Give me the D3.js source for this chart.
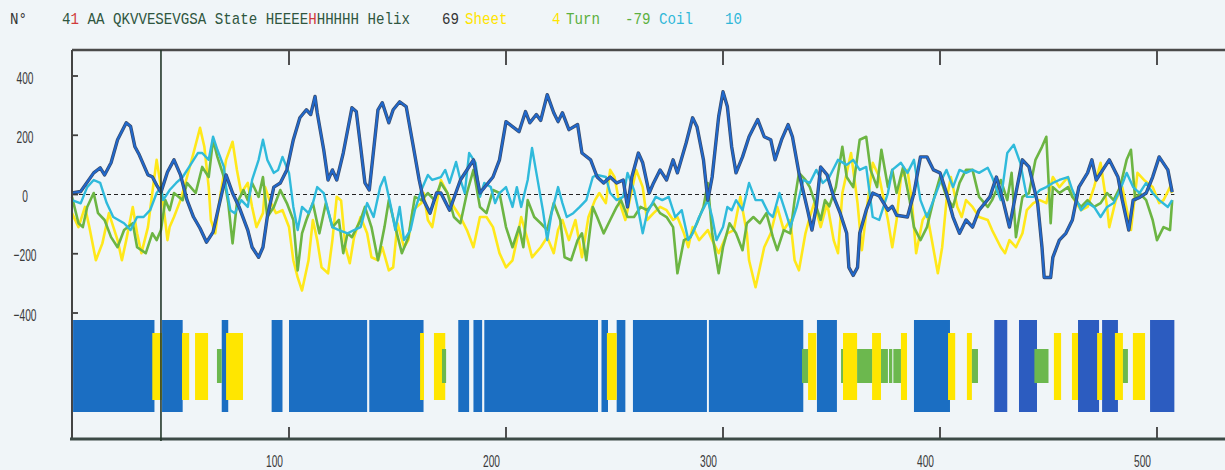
<!DOCTYPE html>
<html lang="en">
<head>
<meta charset="utf-8">
<script src="https://d3js.org/d3.v7.min.js"></script>
<style>
  html, body { margin: 0; padding: 0; background: #f0f5f8; }
  svg { display: block; }
  .axis text { font-family: "Liberation Sans", sans-serif; font-size: 17px; fill: #3a3a3a; }
  .axis path, .axis line { display: none; }
  .tk { stroke: #3e3e3e; stroke-width: 1.8; }
  .hdr { font-family: "Liberation Mono", monospace; font-size: 17px; }
</style>
</head>
<body>
<script>
// ---- data ----
var xTicks = [100, 200, 300, 400, 500];
var yTicks = [-400, -200, 0, 200, 400];
var cursorResidue = 41;

// header line
var hdrSeq = "QKVVESEVGSA";
var hdrState = "HEEEEHHHHHH";
var hdrScores = [["Helix", "69"], ["Sheet", "4"], ["Turn", "-79"], ["Coil", "10"]];

// secondary structure segments [start, end] in residues
var helixSegs = [[0.5,38],[41.5,51],[69,72],[92,97],[100,136],[137,162],[178,183],[185,189],[190,242.4],
  [244,247],[251,255],[258.5,292.6],[293.5,337],[343.3,352.5],[388,404.6]];
var helixSegsB = [[425,431],[436.4,444.7],[463.6,473.3],[474.7,482],[496.8,508]];
var sheetSegs = [[37,41.5],[50.7,54],[56.7,62.7],[71,78.8],[160.4,162.2],[166.8,172],[246.5,251],[339.2,343],
  [355.3,361.8],[368.7,372.8],[382,384.8],[403.7,407],[412.4,414.7],[452.5,455.8],[460.8,463.6],
  [472.4,474.7],[480.6,484.3],[488.9,494.5]];
var turnSegs = [[66.8,69],[170.5,172.4],[336.4,339.2],[354.4,355.3],[361.8,368.7],[372.8,376],[376.5,378],
  [378.5,382],[414.7,417.5],[443.5,450],[484.3,486.6]];

// propensity profiles [residue, value]
var helixProfile = [[0,5],[4,10],[10,73],[13,90],[15,66],[18,107],[21,185],[25,242],[27,230],[29,161],[31,134],[35,66],[37,60],[39,32],[41,8],[44,76],[47,117],[50,66],[53,-19],[56,-76],[59,-114],[62,-161],[65,-127],[68,-29],[71,66],[74,5],[77,-42],[81,-120],[83,-178],[86,-212],[88,-178],[90,-76],[93,25],[96,39],[99,83],[102,185],[105,259],[108,286],[110,270],[112,331],[113,276],[116,151],[118,49],[120,83],[122,49],[125,140],[129,293],[131,280],[133,161],[135,39],[137,15],[141,286],[143,310],[146,242],[148,286],[151,313],[154,297],[157,174],[160,49],[162,-19],[165,-63],[168,5],[170,5],[174,-53],[179,49],[185,117],[188,5],[194,59],[197,117],[200,246],[203,229],[206,212],[209,280],[211,242],[214,270],[216,250],[219,337],[222,276],[224,246],[226,276],[229,219],[233,236],[235,140],[239,117],[242,59],[245,39],[248,59],[251,39],[254,49],[256,-42],[258,59],[261,140],[263,107],[266,5],[268,39],[271,83],[274,49],[277,117],[279,73],[283,174],[286,259],[288,229],[291,117],[293,-19],[295,59],[298,263],[300,347],[302,297],[304,161],[306,73],[309,127],[312,195],[316,253],[319,195],[322,185],[324,117],[327,185],[330,236],[332,195],[335,73],[339,-53],[341,-120],[343,-42],[345,93],[348,66],[351,-8],[354,-63],[357,-131],[358,-246],[360,-273],[362,-246],[363,-131],[366,-53],[369,5],[372,-5],[376,-53],[378,-40],[380,-70],[385,-76],[388,5],[391,127],[394,127],[397,83],[400,73],[403,5],[406,-76],[409,-131],[412,-86],[415,-110],[418,-53],[423,-8],[426,59],[429,-19],[432,-110],[435,5],[438,117],[441,93],[445,-29],[447,-178],[448,-280],[451,-280],[452,-212],[455,-154],[458,-131],[461,-86],[464,25],[468,73],[470,117],[472,49],[475,83],[478,117],[482,59],[484,-19],[487,-120],[489,-19],[492,-10],[495,5],[498,59],[501,127],[505,83],[507,8]];

var sheetProfile = [[0,-63],[3,-110],[6,-42],[8,-110],[11,-222],[14,-165],[17,-63],[21,-154],[23,-222],[25,-154],[28,-42],[30,-131],[32,-198],[35,-110],[37,5],[39,117],[41,25],[42,-29],[44,-154],[45,-110],[47,-76],[50,-19],[53,59],[56,140],[59,225],[61,161],[63,25],[64,-86],[66,-131],[68,-19],[71,117],[74,178],[76,83],[78,5],[81,39],[83,-42],[85,-110],[88,-63],[89,25],[91,-19],[94,-63],[97,-53],[100,-110],[102,-222],[104,-280],[106,-324],[109,-222],[111,-86],[113,-154],[115,-246],[118,-266],[120,-154],[122,-8],[124,-20],[126,-178],[128,-232],[130,-144],[133,-76],[136,-131],[138,-212],[141,-222],[143,-178],[146,-256],[148,-246],[150,-97],[153,-178],[155,-154],[157,-53],[161,-29],[162,5],[164,-86],[166,-110],[170,49],[173,5],[176,-42],[179,-76],[182,-120],[185,-178],[188,-76],[191,-76],[194,-110],[197,-198],[200,-246],[203,-222],[205,-154],[207,-76],[210,-154],[212,-212],[216,-178],[219,-144],[222,-198],[224,-120],[226,-86],[229,-154],[232,-86],[235,-212],[238,-76],[241,-19],[243,5],[246,-29],[248,83],[250,59],[252,-19],[255,-86],[257,-19],[260,83],[263,25],[265,-86],[268,-63],[271,-42],[274,-53],[277,-86],[279,-76],[282,-131],[284,-178],[286,-110],[289,-154],[293,-120],[295,-154],[298,-198],[302,-131],[305,-120],[308,-8],[311,-131],[312,-222],[315,-313],[317,-246],[319,-178],[322,-131],[325,-42],[328,-120],[331,-86],[333,-222],[335,-256],[338,-131],[340,-76],[342,-29],[345,-110],[348,-29],[351,-154],[353,-198],[355,5],[359,140],[362,-29],[364,-188],[366,-63],[369,107],[372,59],[376,-86],[378,-178],[380,-86],[382,59],[385,83],[387,-19],[389,-198],[392,-86],[394,-63],[396,-144],[399,-266],[401,-178],[403,-19],[405,59],[408,-42],[410,-76],[412,-19],[415,-42],[418,-76],[422,-86],[424,-120],[428,-178],[430,-198],[432,-154],[435,-178],[438,-131],[440,-53],[443,-29],[446,-19],[449,-29],[452,59],[455,25],[459,59],[461,-8],[465,-53],[468,-42],[471,25],[474,107],[477,-42],[478,-110],[481,-19],[484,25],[488,-120],[491,73],[494,49],[498,25],[501,-29],[503,-19],[506,25],[507,5]];

var turnProfile = [[0,-8],[3,-97],[5,-110],[7,-42],[10,5],[12,-63],[15,-86],[18,-144],[21,-178],[24,-120],[28,-97],[30,-178],[34,-198],[37,-131],[39,-154],[41,-120],[43,-19],[45,-53],[47,5],[51,-19],[53,39],[57,5],[60,93],[63,59],[65,185],[67,127],[70,59],[72,-29],[74,-165],[76,-29],[79,15],[81,-19],[83,39],[86,-8],[88,59],[90,-76],[93,-42],[96,15],[99,-29],[102,-86],[104,-256],[106,-131],[108,-86],[111,-29],[114,-131],[117,-29],[120,-110],[123,-86],[125,-198],[127,-131],[129,-144],[133,-86],[135,-42],[138,-110],[141,-222],[144,-110],[146,-19],[149,-110],[152,-198],[155,-144],[158,-8],[161,-19],[164,5],[167,-19],[170,39],[173,5],[176,-76],[179,-97],[182,5],[185,83],[188,-42],[191,-63],[194,15],[197,5],[200,-110],[203,-178],[206,-110],[208,-178],[210,-19],[213,-76],[216,-97],[219,-120],[222,-29],[225,-86],[227,-212],[230,-222],[233,-154],[235,-131],[237,-222],[240,-42],[242,-76],[245,-131],[248,-86],[251,-42],[253,-19],[256,-76],[259,-76],[262,-42],[265,-53],[268,-29],[271,-63],[274,-76],[277,-110],[279,-266],[282,-154],[285,-144],[288,-97],[291,-42],[293,39],[295,-131],[298,-266],[300,-178],[303,-97],[306,-131],[309,-188],[311,-97],[314,-76],[317,-97],[320,-63],[323,-144],[325,-188],[328,-120],[331,-131],[333,-19],[335,73],[338,49],[340,25],[342,-19],[345,-86],[347,-19],[349,-40],[352,25],[355,161],[357,59],[360,25],[363,185],[366,195],[368,83],[371,25],[373,151],[376,25],[378,83],[380,5],[383,93],[386,-19],[388,-110],[391,-154],[394,-110],[397,-19],[400,59],[403,-8],[406,-42],[409,39],[412,83],[415,83],[418,-8],[422,-42],[424,-19],[428,49],[431,-19],[433,73],[435,-144],[438,-8],[441,5],[444,117],[447,161],[449,195],[451,-97],[452,25],[455,5],[459,25],[461,-8],[465,-42],[468,-19],[471,-42],[474,-29],[477,5],[480,-19],[483,25],[486,117],[488,151],[490,-19],[492,5],[495,-19],[498,-86],[500,-154],[503,-110],[506,-120],[507,-19]];

var coilProfile = [[0,-19],[4,-30],[7,25],[10,49],[13,39],[16,-29],[19,-76],[24,-97],[27,-120],[30,-76],[33,-76],[36,-53],[39,5],[41,25],[42,-19],[45,15],[48,39],[51,59],[54,93],[58,140],[60,140],[63,117],[65,195],[67,151],[70,93],[71,25],[73,-53],[75,-63],[78,-19],[81,-42],[83,49],[86,117],[88,185],[90,117],[93,73],[95,83],[97,127],[100,73],[102,-42],[104,-120],[106,-42],[109,-63],[111,-29],[113,25],[116,5],[118,-53],[120,-110],[123,-120],[127,-131],[130,-120],[133,-110],[136,-29],[139,-76],[142,25],[144,59],[147,-42],[149,-120],[151,-42],[153,-154],[156,-120],[158,-53],[161,15],[164,66],[166,49],[170,59],[172,83],[174,39],[177,110],[179,49],[181,5],[183,140],[186,107],[188,-8],[190,39],[193,25],[195,-29],[197,5],[200,25],[203,-42],[205,25],[207,-42],[210,49],[212,157],[214,73],[217,-53],[219,-154],[221,-63],[224,25],[226,-29],[228,-76],[231,-63],[234,-42],[237,-19],[240,59],[242,66],[246,59],[248,5],[251,-19],[254,-8],[256,73],[259,15],[261,-53],[263,-131],[265,-63],[269,-8],[272,-19],[275,-8],[278,-76],[281,-53],[284,-154],[286,-131],[289,-76],[293,-19],[295,-76],[297,-154],[300,-110],[302,-42],[304,-53],[306,-19],[309,-53],[312,39],[315,-19],[318,-19],[321,-63],[323,-76],[326,5],[329,-63],[331,-110],[334,-42],[337,49],[340,39],[343,83],[346,39],[349,59],[353,117],[357,100],[360,117],[363,83],[366,93],[369,-76],[372,-86],[376,5],[378,83],[382,107],[385,73],[388,117],[391,-19],[394,-76],[397,-19],[400,39],[403,83],[406,25],[409,83],[412,73],[415,83],[418,73],[422,90],[424,59],[428,-19],[431,140],[434,168],[437,107],[440,-8],[443,-8],[446,15],[449,25],[452,39],[455,49],[459,59],[461,15],[465,-53],[468,-29],[471,-42],[474,-76],[477,-42],[480,-29],[483,15],[486,73],[489,25],[492,5],[495,39],[498,5],[501,-19],[505,-42],[507,-19]];

// ---- drawing ----
var W = 1225, H = 470;
var x = d3.scaleLinear().domain([0, 500]).range([72, 1157]);
var y = d3.scaleLinear().domain([-400, 400]).range([313, 76]);
var plotTop = 50, plotBottom = 439, plotLeft = 72;

var svg = d3.select("body").append("svg").attr("width", W).attr("height", H);
svg.append("rect").attr("width", W).attr("height", H).attr("fill", "#f0f5f8");

// header
var hs = 0.833;
var hdr = svg.append("g").attr("class", "hdr").attr("transform", "scale(" + hs + ",1)");
function put(txt, px, col) {
  return hdr.append("text").attr("x", px / hs).attr("y", 24).attr("fill", col).text(txt);
}
put("N\u00b0", 10, "#333");
var t = hdr.append("text").attr("x", 62 / hs).attr("y", 24).attr("fill", "#2f5640");
t.append("tspan").text("4");
t.append("tspan").attr("fill", "#d03a3a").text("1");
t.append("tspan").text(" AA " + hdrSeq + " State " + hdrState.slice(0, 5));
t.append("tspan").attr("fill", "#d03a3a").text(hdrState.charAt(5));
t.append("tspan").text(hdrState.slice(6) + " " + hdrScores[0][0]);
put(hdrScores[0][1], 442, "#333");
put(hdrScores[1][0], 465, "#ffe400");
put(hdrScores[1][1], 552, "#ffe400");
put(hdrScores[2][0], 566, "#5cb040");
put(hdrScores[2][1], 625, "#5cb040");
put(hdrScores[3][0], 659, "#30b8d8");
put(hdrScores[3][1], 725, "#30b8d8");

// secondary structure blocks
function blocks(segs, y0, y1, col) {
  svg.append("g").selectAll("rect").data(segs).enter().append("rect")
    .attr("x", function(d) { return x(d[0]); })
    .attr("width", function(d) { return x(d[1]) - x(d[0]); })
    .attr("y", y0).attr("height", y1 - y0)
    .attr("fill", col);
}
blocks(helixSegs, 320, 412, "#1b6ec2");
blocks(helixSegsB, 320, 412, "#2c5cc0");
blocks(sheetSegs, 333, 400, "#ffe600");
blocks(turnSegs, 349, 383, "#6cb84e");

// zero line
svg.append("line")
  .attr("x1", plotLeft).attr("x2", x(508))
  .attr("y1", y(0)).attr("y2", y(0))
  .attr("stroke", "#222").attr("stroke-width", 1.2).attr("stroke-dasharray", "4,3");

// profiles
var line = d3.line().x(function(d) { return x(d[0]); }).y(function(d) { return y(d[1]); });
function profile(data, col, w) {
  svg.append("path").datum(data).attr("d", line)
    .attr("fill", "none").attr("stroke", col).attr("stroke-width", w)
    .attr("stroke-linejoin", "round");
}
profile(sheetProfile, "#ffe81a", 2.6);
profile(turnProfile, "#6cb543", 2.6);
profile(coilProfile, "#2fbadb", 2.4);
profile(helixProfile, "#3b4c6a", 3.4);
profile(helixProfile, "#2068cc", 2.0);

// axis labels
var gx = svg.append("g").attr("class", "axis")
  .attr("transform", "translate(0," + plotBottom + ")")
  .call(d3.axisBottom(x).tickValues(xTicks).tickSize(0));
gx.selectAll("text").attr("x", null).attr("y", null).attr("dy", null)
  .attr("text-anchor", "middle")
  .attr("transform", "translate(-15,28) scale(0.6,1)");

var gy = svg.append("g").attr("class", "axis")
  .attr("transform", "translate(" + plotLeft + ",0)")
  .call(d3.axisLeft(y).tickValues(yTicks).tickSize(0));
gy.selectAll("text").attr("x", null).attr("y", null).attr("dy", null)
  .attr("text-anchor", "middle")
  .attr("transform", "translate(-47,7) scale(0.6,1)");

// tick marks
svg.append("g").selectAll("line").data(xTicks).enter().append("line").attr("class", "tk")
  .attr("x1", x).attr("x2", x).attr("y1", plotBottom).attr("y2", plotBottom - 12);
svg.append("g").selectAll("line").data(xTicks).enter().append("line").attr("class", "tk")
  .attr("x1", x).attr("x2", x).attr("y1", plotTop).attr("y2", plotTop + 15);
svg.append("g").selectAll("line").data(yTicks).enter().append("line").attr("class", "tk")
  .attr("x1", plotLeft).attr("x2", plotLeft + 6).attr("y1", y).attr("y2", y);

// frame
svg.append("line").attr("x1", plotLeft).attr("x2", W).attr("y1", plotTop).attr("y2", plotTop)
  .attr("stroke", "#4a4a4a").attr("stroke-width", 2.5);
svg.append("line").attr("x1", plotLeft).attr("x2", plotLeft).attr("y1", plotTop).attr("y2", plotBottom)
  .attr("stroke", "#444").attr("stroke-width", 2);
svg.append("line").attr("x1", 70).attr("x2", W).attr("y1", plotBottom).attr("y2", plotBottom)
  .attr("stroke", "#3c4a46").attr("stroke-width", 3.2);

// cursor
svg.append("line").attr("x1", x(cursorResidue)).attr("x2", x(cursorResidue))
  .attr("y1", plotTop).attr("y2", plotBottom + 2)
  .attr("stroke", "#23372a").attr("stroke-width", 1.6);
</script>
</body>
</html>
